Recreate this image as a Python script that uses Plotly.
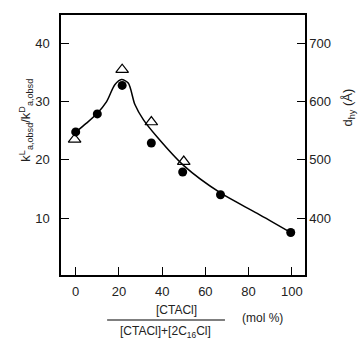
import plotly.graph_objects as go

# Filled circles: k^L/k^D ratio (left axis)
circ_x = [0, 10, 21.5, 35, 49.5, 67, 99.5]
circ_y = [24.8, 27.9, 32.8, 22.9, 17.9, 14.0, 7.5]

# Open triangles: d_hy (right axis, Å)
tri_x = [-0.5, 21.5, 35, 50]
tri_y = [535, 655, 565, 497]

# Smooth guide curve (left axis units)
curve_x = [-0.5, 5, 10, 14.3, 18.1, 21.2, 24.3, 27.4, 31.3, 37.5, 50, 67, 84, 99.5]
curve_y = [24.6, 26.3, 28.0, 30.0, 32.9, 33.8, 33.2, 29.5, 26.9, 24.0, 19.0, 14.3, 10.8, 7.5]

x_ticks = [0, 20, 40, 60, 80, 100]
y_ticks = [10, 20, 30, 40]
y2_ticks = [400, 500, 600, 700]

FONT = "Liberation Sans"
fig = go.Figure()
fig.add_trace(go.Scatter(x=curve_x, y=curve_y, mode="lines",
                         line=dict(color="black", width=1.5, shape="spline", smoothing=0.8),
                         hoverinfo="skip", showlegend=False))
fig.add_trace(go.Scatter(x=circ_x, y=circ_y, mode="markers",
                         marker=dict(symbol="circle", size=9, color="black"),
                         showlegend=False))
fig.add_trace(go.Scatter(x=tri_x, y=tri_y, mode="markers", yaxis="y2",
                         marker=dict(symbol="triangle-up-open", size=11, color="black",
                                     line=dict(width=1.2)),
                         showlegend=False))

axis_common = dict(ticks="inside", ticklen=8, tickwidth=1.2, tickcolor="black",
                   showline=True, linecolor="black", linewidth=1.5,
                   showgrid=False, zeroline=False)

fig.update_layout(
    width=359, height=340,
    margin=dict(l=61, r=54, t=15, b=65),
    paper_bgcolor="white", plot_bgcolor="white",
    font=dict(family=FONT, size=13, color="#222"),
    xaxis=dict(range=[-6.8, 106.1], tickvals=x_ticks, mirror=True,
               ticklabelstandoff=4, **axis_common),
    yaxis=dict(range=[0.2, 44.9], tickvals=y_ticks, ticklabelstandoff=7, **axis_common),
    yaxis2=dict(range=[302, 749], tickvals=y2_ticks, overlaying="y", side="right",
                ticklabelstandoff=0, **axis_common),
)

ann = dict(xref="paper", yref="paper", showarrow=False,
           xanchor="center", yanchor="middle")
fig.add_annotation(x=-0.145, y=0.596, textangle=-90,
                   text="k<sup>L</sup><sub>a,obsd</sub>/k<sup>D</sup><sub>a,obsd</sub>",
                   font=dict(size=13), **ann)
fig.add_annotation(x=1.178, y=0.646, textangle=-90,
                   text="d<sub>hy</sub> (Å)", font=dict(size=13), **ann)
fig.add_annotation(x=0.475, y=-0.135, text="[CTACl]", font=dict(size=12), **ann)
fig.add_annotation(x=0.43, y=-0.218, text="[CTACl]+[2C<sub>16</sub>Cl]",
                   font=dict(size=12), **ann)
fig.add_annotation(x=0.824, y=-0.165, text="(mol %)", font=dict(size=12), **ann)
fig.add_shape(type="line", xref="paper", yref="paper", x0=0.189, x1=0.672,
              y0=-0.173, y1=-0.173, line=dict(color="black", width=1.2))

fig.write_html("out.html", config={"displayModeBar": False},
               post_script="document.body.style.margin='0';")
